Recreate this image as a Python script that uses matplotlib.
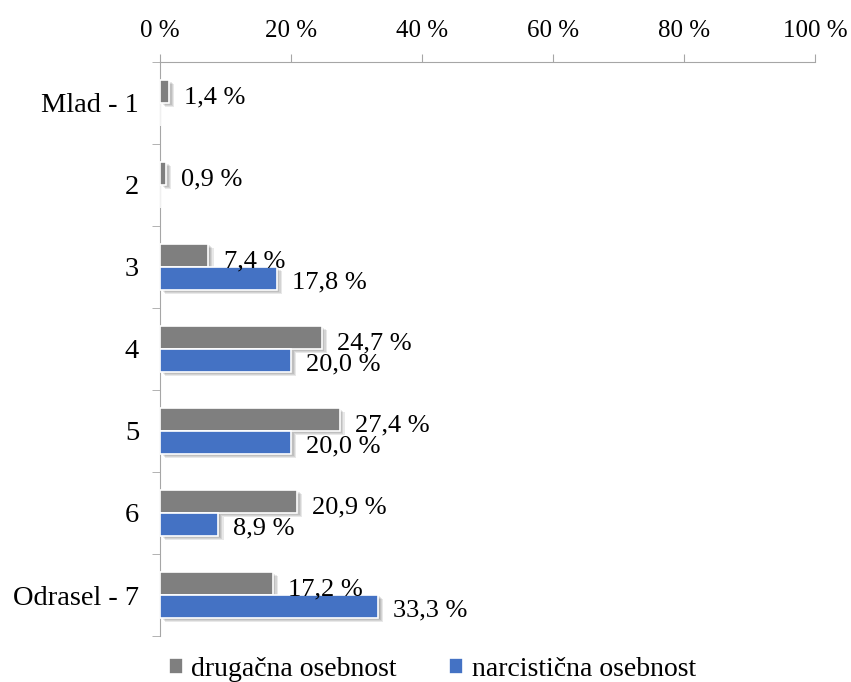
import numpy as np
import matplotlib.pyplot as plt
from matplotlib.ticker import FixedLocator

plt.rcParams['font.family'] = ['Liberation Serif', 'DejaVu Serif']

categories = ['Mlad - 1', '2', '3', '4', '5', '6', 'Odrasel - 7']
drugacna = [1.4, 0.9, 7.4, 24.7, 27.4, 20.9, 17.2]
narcisticna = [0, 0, 17.8, 20.0, 20.0, 8.9, 33.3]
xticks = [0, 20, 40, 60, 80, 100]

gray = '#7f7f7f'
blue = '#4472c4'

fig = plt.figure(figsize=(8.51, 6.82), dpi=100)
ax = fig.add_axes([0.188, 0.0674, 0.770, 0.842])

y = np.arange(len(categories))
h = 0.28


def shadow_bars(ypos, vals):
    # soft drop shadow, a few offset layers
    vals = np.array(vals)
    mask = vals > 0
    for k in [1.0, 0.75, 0.5, 0.25]:
        ax.barh(ypos[mask] + 0.05 * k, vals[mask], height=h, left=0.8 * k,
                color='black', alpha=0.09, linewidth=0, zorder=1)


shadow_bars(y - h / 2, drugacna)
shadow_bars(y + h / 2, narcisticna)

ax.barh(y - h / 2, drugacna, height=h, color=gray, edgecolor='white',
        linewidth=1.2, zorder=3, label='drugačna osebnost')
ax.barh(y + h / 2, narcisticna, height=h, color=blue, edgecolor='white',
        linewidth=1.2, zorder=3, label='narcistična osebnost')

for i in range(len(categories)):
    ax.text(drugacna[i] + 2.3, y[i] - h / 2 + 0.07, f'{drugacna[i]:.1f} %'.replace('.', ','),
            va='center', ha='left', fontsize=19, zorder=5)
    if narcisticna[i] > 0:
        ax.text(narcisticna[i] + 2.3, y[i] + h / 2 + 0.05,
                f'{narcisticna[i]:.1f} %'.replace('.', ','),
                va='center', ha='left', fontsize=19, zorder=5)

ax.set_xlim(0, 100)
ax.set_ylim(len(categories) - 0.5, -0.5)
ax.xaxis.tick_top()
ax.set_xticks(xticks)
ax.set_xticklabels([f'{t} %' for t in xticks], fontsize=18)
ax.tick_params(axis='x', direction='out', length=6, color='#a6a6a6', pad=8)

ax.set_yticks(y)
ax.set_yticklabels(categories, fontsize=20.5)
ax.yaxis.set_minor_locator(FixedLocator(np.arange(-0.5, len(categories), 1)))
ax.tick_params(axis='y', which='major', length=0, pad=15)
ax.tick_params(axis='y', which='minor', length=6, color='#a6a6a6')

for s in ['right', 'bottom']:
    ax.spines[s].set_visible(False)
ax.spines['top'].set_color('#a6a6a6')
ax.spines['left'].set_color('#a6a6a6')

fig.legend(loc='lower center', ncol=2, frameon=False, fontsize=20,
           bbox_to_anchor=(0.508, -0.037), handlelength=0.5, handleheight=0.5,
           handletextpad=0.3, columnspacing=1.9)

fig.savefig('out.png', dpi=100)
